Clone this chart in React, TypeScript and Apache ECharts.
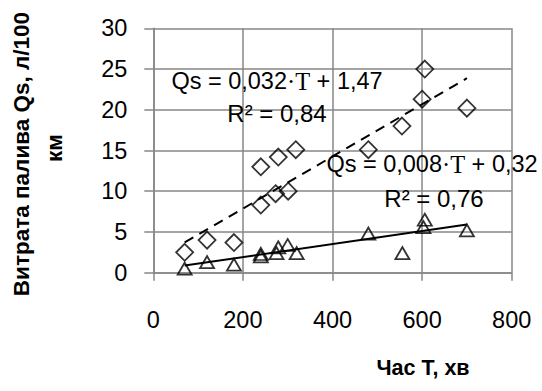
import React, { useEffect, useRef } from "react";
import * as echarts from "echarts";

const xTicks = [0, 200, 400, 600, 800];
const yTicks = [0, 5, 10, 15, 20, 25, 30];

// Upper series (diamonds): [time T, Qs]
const diamondT = [70, 120, 180, 240, 279, 318, 240, 273, 301, 480, 555, 600, 606, 700];
const diamondQ = [2.5, 4.0, 3.7, 13.0, 14.2, 15.1, 8.3, 9.7, 10.0, 15.1, 18.0, 21.3, 25.0, 20.2];

// Lower series (triangles)
const triT = [70, 120, 180, 240, 240, 275, 279, 300, 320, 480, 556, 603, 606, 700];
const triQ = [0.5, 1.3, 1.0, 2.0, 2.3, 2.4, 3.1, 3.4, 2.4, 4.8, 2.4, 5.6, 6.5, 5.2];

// Trend lines: slope, intercept, R²
const trendUpper = { a: 0.032, b: 1.47, r2: 0.84 };
const trendLower = { a: 0.008, b: 0.32, r2: 0.76 };
const trendRange = [70, 700];

const fmt = (v: number, d: number) => v.toFixed(d).replace(".", ",");

export default function App() {
  const ref = useRef<HTMLDivElement>(null);
  useEffect(() => {
    if (!ref.current) return;
    const chart = echarts.init(ref.current, null, { renderer: "svg" });
    const gray = "#878787";
    const font = "Liberation Sans";
    const line = (t: { a: number; b: number }) =>
      trendRange.map((x) => [x, t.a * x + t.b]);
    const eqText = (t: { a: number; b: number }) =>
      `{a|Qs = ${fmt(t.a, 3)}}{s|·T}{a| + ${fmt(t.b, 2)}}`;
    const rich = {
      a: { fontFamily: font, fontSize: 23.5, fill: "#000" },
      s: { fontFamily: "Liberation Serif", fontSize: 24.5, fill: "#000" },
    };
    const rStyle = (t: { r2: number }) => ({
      text: `R² = ${fmt(t.r2, 2)}`,
      fontFamily: font,
      fontSize: 24,
      fill: "#000",
      align: "center",
      verticalAlign: "middle",
    });
    chart.setOption({
      animation: false,
      grid: { left: 153.3, right: 30.3, top: 28.3, bottom: 118.3 },
      xAxis: {
        type: "value",
        min: xTicks[0],
        max: xTicks[xTicks.length - 1],
        interval: 200,
        axisLine: { show: true, lineStyle: { color: gray, width: 1.5 } },
        axisTick: { show: true, length: 8, lineStyle: { color: gray, width: 1.5 } },
        splitLine: { show: true, lineStyle: { color: gray, width: 1.5 } },
        axisLabel: { fontFamily: font, fontSize: 23.5, color: "#000", margin: 35 },
      },
      yAxis: {
        type: "value",
        min: yTicks[0],
        max: yTicks[yTicks.length - 1],
        interval: 5,
        axisLine: { show: true, lineStyle: { color: gray, width: 1.5 } },
        axisTick: { show: true, length: 9, lineStyle: { color: gray, width: 1.5 } },
        splitLine: { show: true, lineStyle: { color: gray, width: 1.5 } },
        axisLabel: { fontFamily: font, fontSize: 23.5, color: "#000", margin: 26 },
      },
      series: [
        {
          type: "line",
          data: line(trendUpper),
          symbol: "none",
          lineStyle: { color: "#000", width: 2, type: [10, 7] },
          z: 2,
        },
        {
          type: "line",
          data: line(trendLower),
          symbol: "none",
          lineStyle: { color: "#000", width: 2 },
          z: 2,
        },
        {
          type: "scatter",
          data: diamondT.map((t, i) => [t, diamondQ[i]]),
          symbol: "diamond",
          symbolSize: [17, 17],
          itemStyle: { color: "rgba(255,255,255,0)", borderColor: "#000", borderWidth: 1.8 },
          z: 3,
        },
        {
          type: "scatter",
          data: triT.map((t, i) => [t, triQ[i]]),
          symbol: "triangle",
          symbolSize: [14, 12],
          itemStyle: { color: "rgba(255,255,255,0)", borderColor: "#000", borderWidth: 1.8 },
          z: 3,
        },
      ],
      graphic: [
        {
          type: "text",
          x: 277,
          y: 81,
          style: { text: eqText(trendUpper), rich, align: "center", verticalAlign: "middle" },
          z: 10,
        },
        { type: "text", x: 277, y: 113, style: rStyle(trendUpper), z: 10 },
        {
          type: "text",
          x: 432,
          y: 164,
          style: { text: eqText(trendLower), rich, align: "center", verticalAlign: "middle" },
          z: 10,
        },
        { type: "text", x: 434, y: 198, style: rStyle(trendLower), z: 10 },
        {
          type: "text",
          x: 21,
          y: 154,
          rotation: Math.PI / 2,
          style: {
            text: "Витрата палива Qs, л/100",
            fontFamily: font,
            fontWeight: "bold",
            fontSize: 22.5,
            fill: "#000",
            align: "center",
            verticalAlign: "middle",
          },
        },
        {
          type: "text",
          x: 54,
          y: 148,
          rotation: Math.PI / 2,
          style: {
            text: "км",
            fontFamily: font,
            fontWeight: "bold",
            fontSize: 22.5,
            fill: "#000",
            align: "center",
            verticalAlign: "middle",
          },
        },
        {
          type: "text",
          x: 423,
          y: 368,
          style: {
            text: "Час Т, хв",
            fontFamily: font,
            fontWeight: "bold",
            fontSize: 21.5,
            fill: "#000",
            align: "center",
            verticalAlign: "middle",
          },
        },
      ],
    });
    return () => chart.dispose();
  }, []);
  return (
    <div
      ref={ref}
      style={{ position: "absolute", left: 0, top: 0, width: 542, height: 391 }}
    />
  );
}
